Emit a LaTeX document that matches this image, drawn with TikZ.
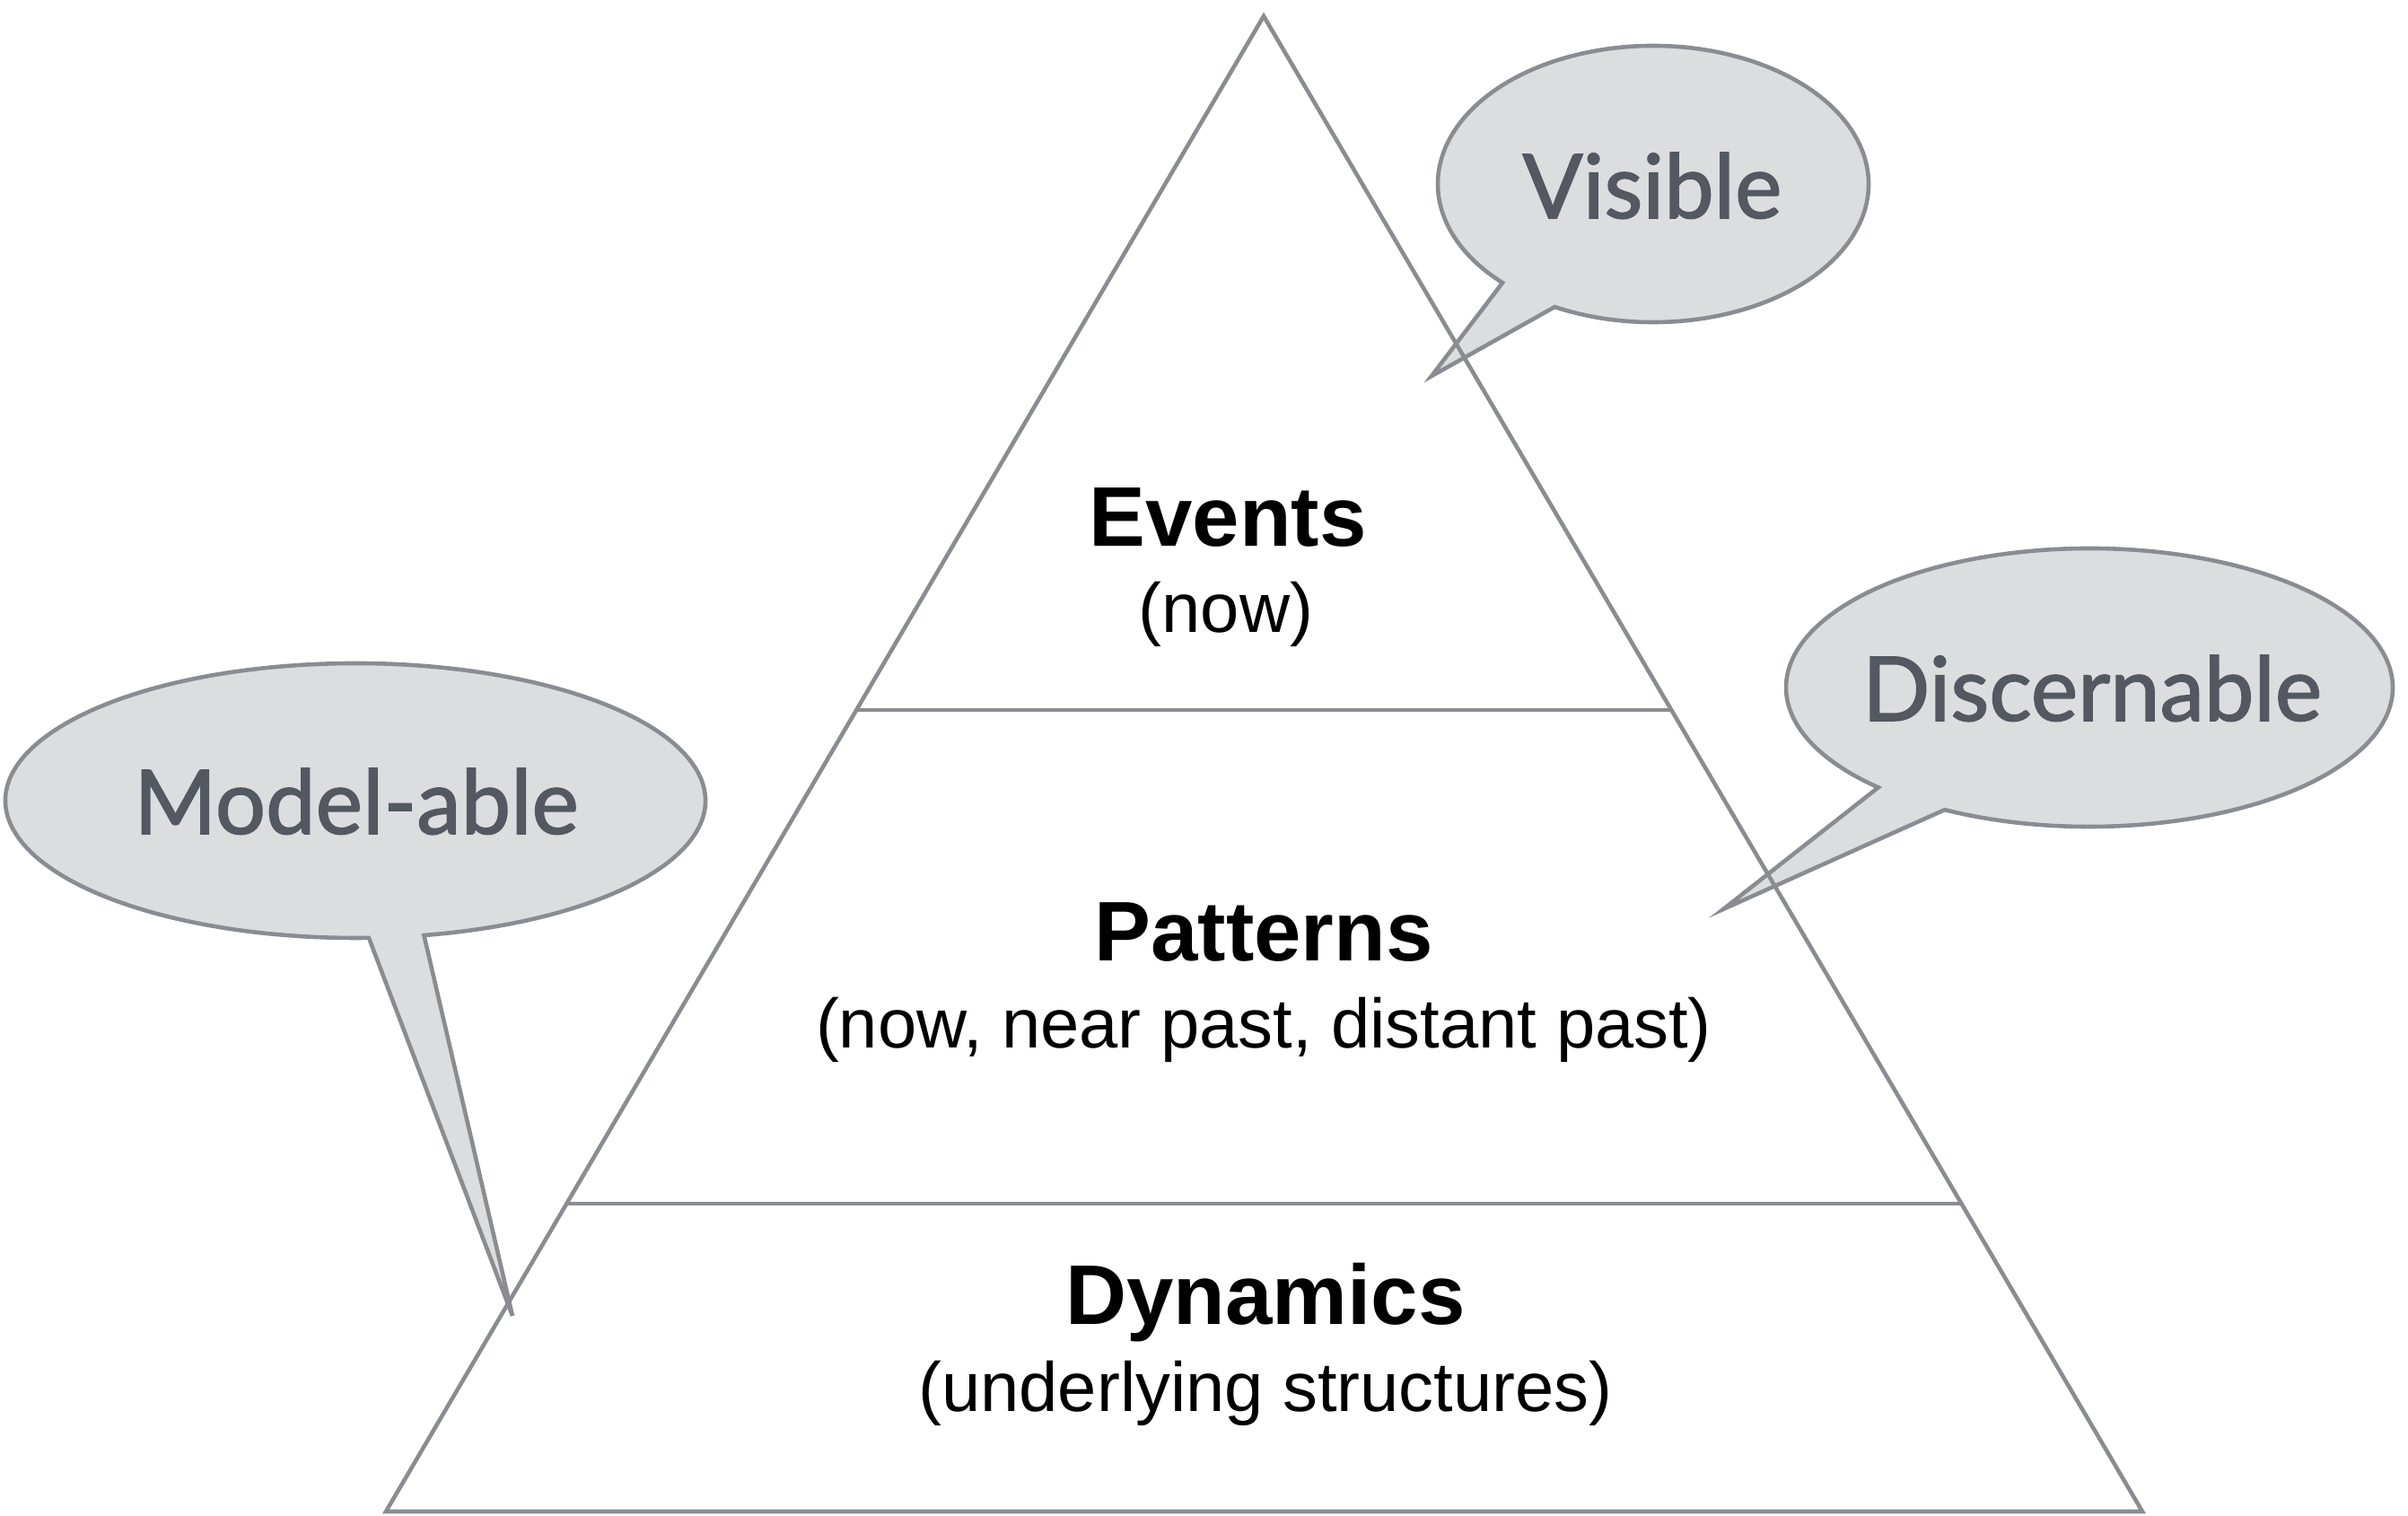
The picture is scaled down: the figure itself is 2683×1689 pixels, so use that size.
\documentclass[tikz,border=0pt]{standalone}
\usepackage{fontspec}
\setmainfont{Liberation Sans}
\newfontfamily\calloutfont[FakeBold=1.6]{Lato}
\usetikzlibrary{calc}
\definecolor{edgegray}{HTML}{898C90}
\definecolor{bubblefill}{HTML}{DCDDDF}
\definecolor{bubbletext}{HTML}{535861}
\tikzset{
  tri/.style={draw=edgegray, line width=1.3pt, line join=miter},
  bubble/.style={draw=edgegray, fill=bubblefill, line width=1.3pt, line join=miter},
  bubbletxt/.style={anchor=base, inner sep=0pt, text=bubbletext, font=\calloutfont\fontsize{28.2}{30}\selectfont},
  headtxt/.style={anchor=base, inner sep=0pt, font=\bfseries\fontsize{26.8}{28}\selectfont},
  subtxt/.style={anchor=base, inner sep=0pt, font=\fontsize{22.1}{24}\selectfont},
}
\begin{document}
\begin{tikzpicture}[x=0.01cm, y=0.01cm]
\useasboundingbox (0,-1689) rectangle (2683,0);

% speech bubbles (drawn below the triangle)
\coordinate (vc) at (1842,-205);
\coordinate (vtip) at (1595,-419);
\path[bubble] ($(vc)+(242.8:240 and 154)$) arc[start angle=242.8, end angle=585.6, x radius=240, y radius=154] -- (vtip) -- cycle;

\coordinate (dc) at (2328,-766);
\coordinate (dtip) at (1920,-1013);
\path[bubble] ($(dc)+(241.5:338 and 155)$) arc[start angle=241.5, end angle=585.9, x radius=338, y radius=155] -- (dtip) -- cycle;

\coordinate (mc) at (396,-892);
\coordinate (mtip) at (571,-1466);
\path[bubble] ($(mc)+(281.3:390 and 153)$) arc[start angle=281.3, end angle=632.2, x radius=390, y radius=153] -- (mtip) -- cycle;

\node[bubbletxt] (visible) at (1841,-243) {Visible};
\node[bubbletxt] (discern) at (2331,-803) {Discernable};
\node[bubbletxt] (modelable) at (397,-929) {Model-able};

% pyramid
\coordinate (apex) at (1408,-18);
\coordinate (bl) at (430,-1684);
\coordinate (br) at (2387,-1684);
\draw[tri] (apex) -- (bl) -- (br) -- cycle;
\coordinate (l1) at ($(apex)!0.464!(bl)$);
\coordinate (r1) at ($(apex)!0.464!(br)$);
\coordinate (l2) at ($(apex)!0.794!(bl)$);
\coordinate (r2) at ($(apex)!0.794!(br)$);
\draw[tri] (l1) -- (r1);
\draw[tri] (l2) -- (r2);

% labels
\node[headtxt] (events) at (1368,-609) {Events};
\node[subtxt] (eventsub) at (1366,-705) {(now)};
\node[headtxt] (patterns) at (1408,-1071) {Patterns};
\node[subtxt] (patternsub) at (1408,-1168) {(now, near past, distant past)};
\node[headtxt] (dynamics) at (1410,-1476) {Dynamics};
\node[subtxt] (dynamicsub) at (1410,-1573) {(underlying structures)};
\end{tikzpicture}
\end{document}
